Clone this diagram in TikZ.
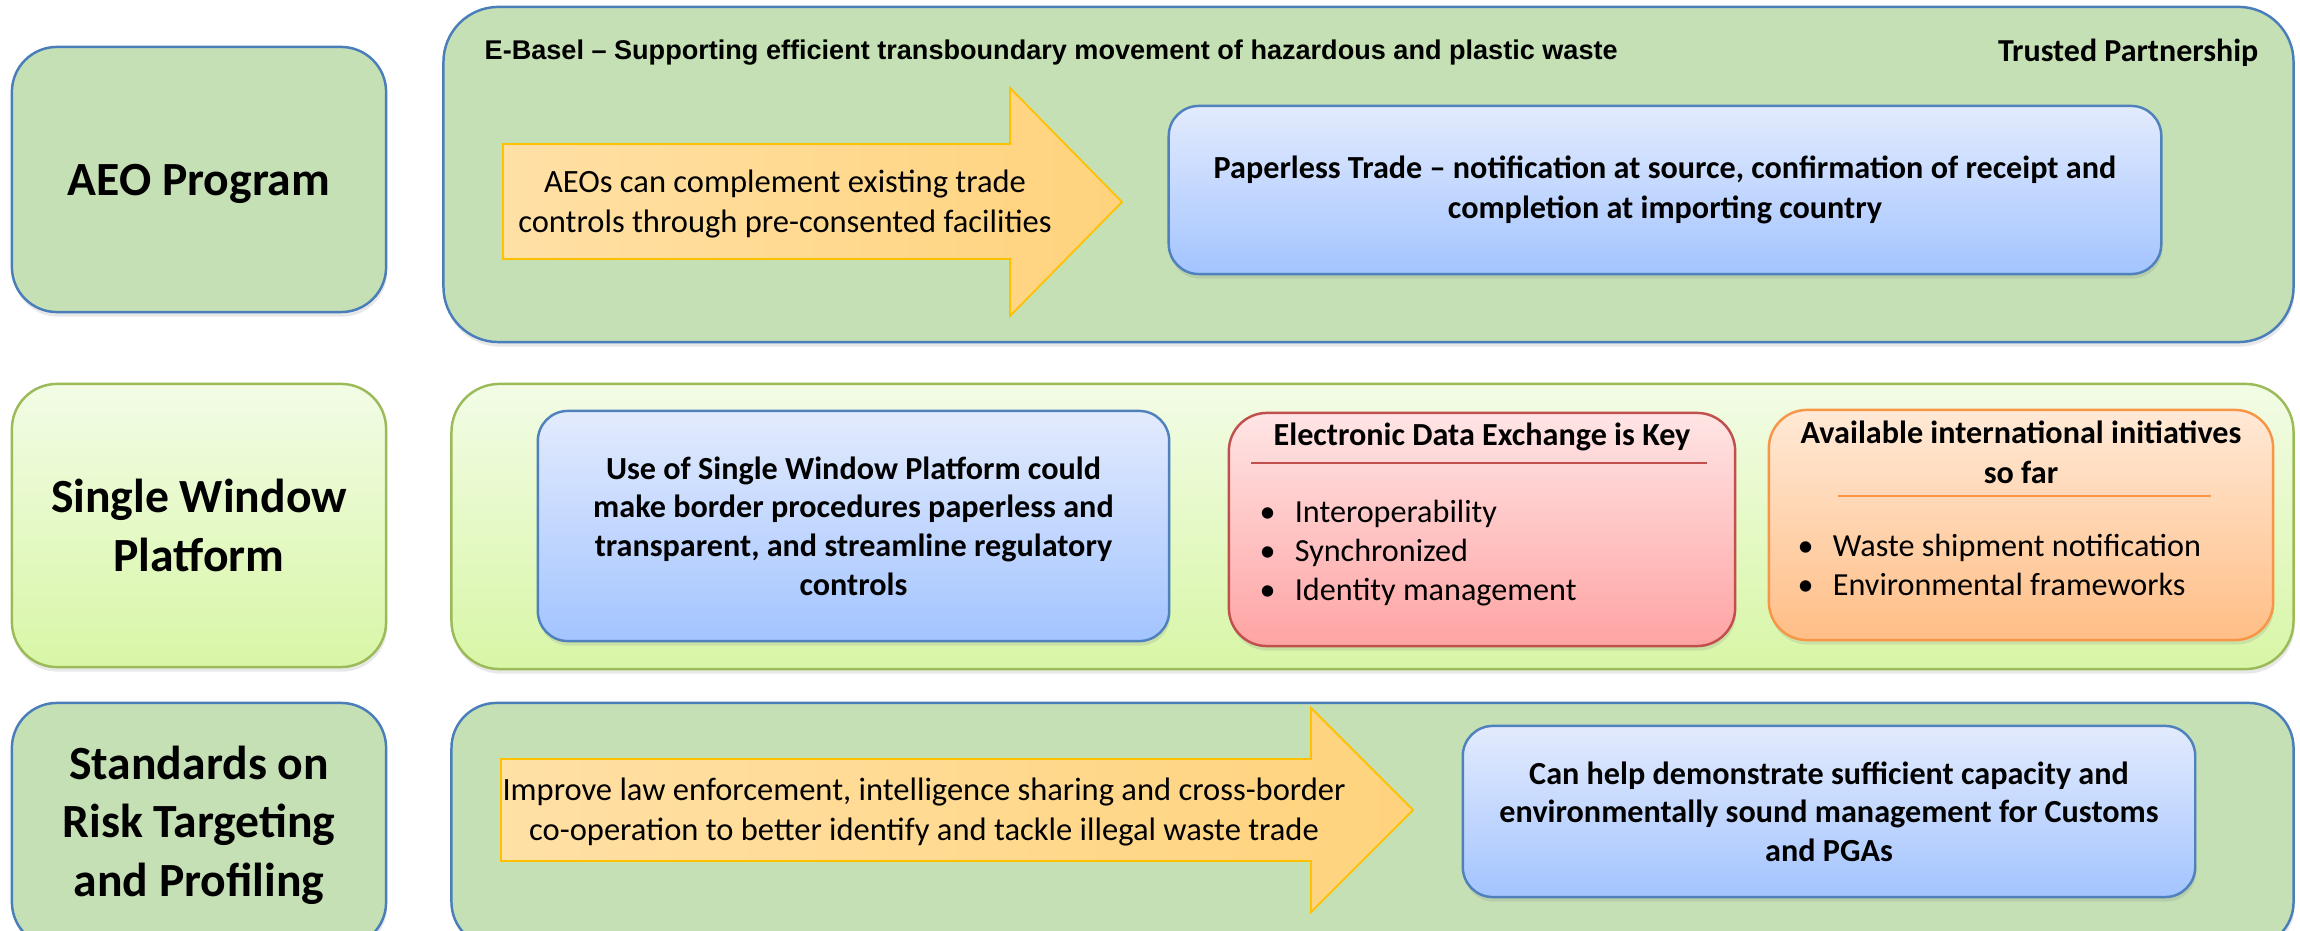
\documentclass[tikz,border=0pt]{standalone}
\usepackage{fontspec}
\setmainfont{Carlito}
\newfontfamily\headfont[Ligatures=TeX]{Liberation Sans}
\usetikzlibrary{positioning,shadows}

\definecolor{panelgreen}{RGB}{197,224,180}
\definecolor{paneledge}{RGB}{74,126,187}
\definecolor{limetop}{RGB}{242,252,230}
\definecolor{limebot}{RGB}{216,246,166}
\definecolor{limeedge}{RGB}{155,187,89}
\definecolor{bluetop}{RGB}{227,235,253}
\definecolor{bluebot}{RGB}{163,196,255}
\definecolor{blueedge}{RGB}{79,129,189}
\definecolor{redtop}{RGB}{255,229,229}
\definecolor{redbot}{RGB}{255,163,163}
\definecolor{rededge}{RGB}{192,80,77}
\definecolor{orangetop}{RGB}{255,233,214}
\definecolor{orangebot}{RGB}{255,190,134}
\definecolor{orangeedge}{RGB}{247,150,70}
\definecolor{arrowleft}{RGB}{255,224,165}
\definecolor{arrowright}{RGB}{255,211,125}
\definecolor{arrowedge}{RGB}{255,192,0}

\begin{document}
\begin{tikzpicture}[x=0.01cm, y=-0.01cm, font=\fontsize{9.15}{11}\selectfont,
  shade/.style={drop shadow={opacity=0.18, shadow xshift=0.3pt, shadow yshift=-1.3pt}},
  panel/.style={shade, draw=paneledge, line width=0.7pt, fill=panelgreen, inner sep=0pt},
  limepanel/.style={shade, draw=limeedge, line width=0.7pt, top color=limetop, bottom color=limebot, inner sep=0pt},
  sidebox/.style={align=center, font=\fontsize{13.55}{16.6}\selectfont\bfseries, minimum width=3.74cm, rounded corners=0.45cm},
  bluebox/.style={shade, draw=blueedge, line width=0.7pt, top color=bluetop, bottom color=bluebot, rounded corners=0.3cm, align=center, font=\fontsize{9.15}{11}\selectfont\bfseries, inner sep=0pt},
  listbox/.style={shade, line width=0.7pt, rounded corners=0.38cm, inner sep=0pt},
  bigarrow/.style={draw=arrowedge, line width=0.5pt, left color=arrowleft, right color=arrowright},
  arrowtext/.style={align=center, font=\fontsize{9.25}{11.2}\selectfont},
  bullets/.style={anchor=west, align=left, inner sep=0pt, font=\fontsize{9.15}{11}\selectfont}]
  \useasboundingbox (0,0) rectangle (2300,931);

  % row labels
  \node[panel, sidebox, minimum height=2.65cm, text depth=0pt] (aeo) at (199,179.5) {AEO Program};
  \node[limepanel, sidebox, minimum height=2.83cm] (swp) at (199,525.5) {Single Window\\Platform};
  \node[panel, sidebox, minimum height=2.44cm] (std) at (199,825) {Standards on\\Risk Targeting\\and Profiling};

  % row panels
  \node[panel, minimum width=18.49cm, minimum height=3.35cm, rounded corners=0.55cm] (ebasel) at (1368.5,174.5) {};
  \node[limepanel, minimum width=18.41cm, minimum height=2.85cm, rounded corners=0.48cm] (window) at (1372.5,526.5) {};
  \node[panel, minimum width=18.41cm, minimum height=2.44cm, rounded corners=0.45cm] (risk) at (1372.5,825) {};

  % AEO row
  \node[anchor=west, inner sep=0pt, font=\headfont\fontsize{7.7}{9}\selectfont\bfseries] (ebtitle) at (484,53)
    {E-Basel – Supporting efficient transboundary movement of hazardous and plastic waste};
  \node[anchor=east, inner sep=0pt, font=\fontsize{9.1}{11}\selectfont\bfseries] (trusted) at (2259,53) {Trusted Partnership};
  \path[bigarrow] (503,144) -- (1010,144) -- (1010,88) -- (1122,202) -- (1010,316) -- (1010,259) -- (503,259) -- cycle;
  \node[arrowtext] (aeotext) at (785,204) {AEOs can complement existing trade\\controls through pre-consented facilities};
  \node[bluebox, minimum width=9.92cm, minimum height=1.68cm, font=\fontsize{9.15}{11.6}\selectfont\bfseries] (paperless) at (1665,190)
    {Paperless Trade – notification at source, confirmation of receipt and\\completion at importing country};

  % single window row
  \node[bluebox, minimum width=6.31cm, minimum height=2.30cm] (swuse) at (853.5,526)
    {Use of Single Window Platform could\\make border procedures paperless and\\transparent, and streamline regulatory\\controls};
  \node[listbox, draw=rededge, top color=redtop, bottom color=redbot, minimum width=5.06cm, minimum height=2.33cm] (edi) at (1482,529.5) {};
  \node[font=\fontsize{9.15}{11}\selectfont\bfseries] (editle) at (1482,437) {Electronic Data Exchange is Key};
  \draw[rededge, line width=0.7pt] (1251,463) -- (1707,463);
  \node[bullets] (edilist) at (1259,553)
    {\makebox[10pt][l]{\textbullet}Interoperability\\\makebox[10pt][l]{\textbullet}Synchronized\\\makebox[10pt][l]{\textbullet}Identity management};
  \node[listbox, draw=orangeedge, top color=orangetop, bottom color=orangebot, minimum width=5.04cm, minimum height=2.30cm] (intl) at (2021,525) {};
  \node[align=center, font=\fontsize{9.15}{11.3}\selectfont\bfseries] (intltitle) at (2021,452) {Available international initiatives\\so far};
  \draw[orangeedge, line width=0.7pt] (1838,496) -- (2211,496);
  \node[bullets] (intllist) at (1797,565)
    {\makebox[10pt][l]{\textbullet}Waste shipment notification\\\makebox[10pt][l]{\textbullet}Environmental frameworks};

  % risk row
  \path[bigarrow] (501,759) -- (1311,759) -- (1311,708) -- (1413,810) -- (1311,912) -- (1311,861) -- (501,861) -- cycle;
  \node[arrowtext] (risktext) at (924,812) {Improve law enforcement, intelligence sharing and cross-border\\co-operation to better identify and tackle illegal waste trade};
  \node[bluebox, minimum width=7.32cm, minimum height=1.71cm] (capacity) at (1829,811.5)
    {Can help demonstrate sufficient capacity and\\environmentally sound management for Customs\\and PGAs};
\end{tikzpicture}
\end{document}
